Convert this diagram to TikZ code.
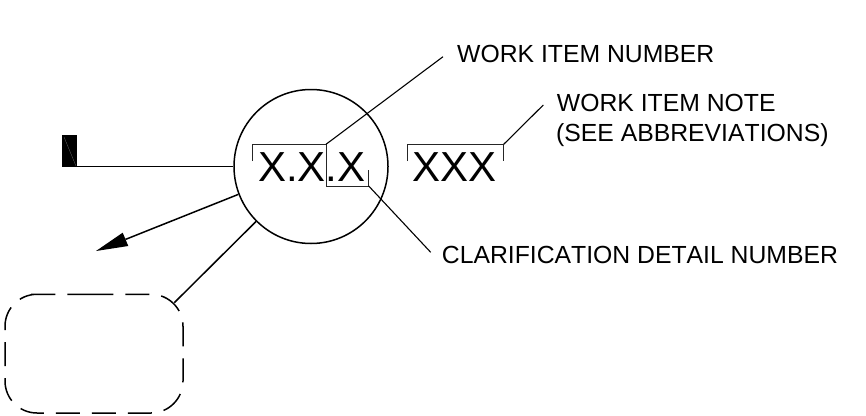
\documentclass[tikz,border=0pt]{standalone}
\usepackage{fontspec}
\setmainfont[Kerning=Off]{Liberation Sans}
\tikzset{
  ln/.style={line width=1.5pt,black},
  brk/.style={line width=1pt,black!85},
  ldr/.style={line width=1.1pt,black},
  lbl/.style={inner sep=0pt,anchor=base west,font=\fontsize{24.75}{30}\selectfont,align=left},
  big/.style={inner sep=0pt,anchor=base west,font=\fontsize{42}{46}\selectfont}
}
\begin{document}
\begin{tikzpicture}[x=1pt,y=-1pt]
\useasboundingbox (0,0) rectangle (866,415);
\node[draw,ln,circle,minimum size=154pt,inner sep=0pt] (c) at (311,166.5) {};
\node[big] (t1) at (258,181.7) {X.X.X};
\node[big] (t2) at (412,181.7) {XXX};
\node[lbl] (l1) at (457,62.7) {WORK ITEM NUMBER};
\node[lbl] (l2) at (556.7,111) {WORK ITEM NOTE};
\node[lbl] (l3) at (556,141.7) {(SEE ABBREVIATIONS)};
\node[lbl] (l4) at (441.7,263.3) {CLARIFICATION DETAIL NUMBER};
% marker
\fill[black] (62.3,135) rectangle (77.3,167);
\draw[black!55,line width=0.25pt] (64,137) -- (76,166);
\coordinate (mk) at (77,166.3);
\draw[ln] (mk) -- (c.west |- mk);
% arrow
\coordinate (tip) at (96,251);
\coordinate (barbA) at (122.7,232.7);
\coordinate (barbB) at (128.3,246);
\coordinate (base) at (125.5,239.4);
\draw[ln] (c.{201.6}) -- (base);
\fill[black] (tip) -- (barbA) -- (barbB) -- cycle;
% brackets
\coordinate (a) at (326,144.3);
\coordinate (b) at (368.7,186);
\coordinate (d) at (503.7,144.3);
\coordinate (e) at (443,56.7);
\coordinate (f) at (430.7,252.3);
\coordinate (g) at (543.3,105);
\draw[brk] (252.3,161) -- (252.3,144.3) -- (a) -- (326,186) -- (b) -- (368.7,170);
\draw[brk] (407.7,161) -- (407.7,144.3) -- (d) -- (503.7,161);
\draw[ldr] (a) -- (e);
\draw[ldr] (b) -- (f);
\draw[ldr] (d) -- (g);
% dashed box
\draw[ln,dash pattern=on 24pt off 12pt,rounded corners=32pt] (57.3,294.3) -- (183,294.3) -- (183,413) -- (5,413) -- (5,294.3) -- cycle;
\coordinate (h) at (174.3,302.7);
\draw[ln] (c.{225}) -- (h);
\end{tikzpicture}
\end{document}
